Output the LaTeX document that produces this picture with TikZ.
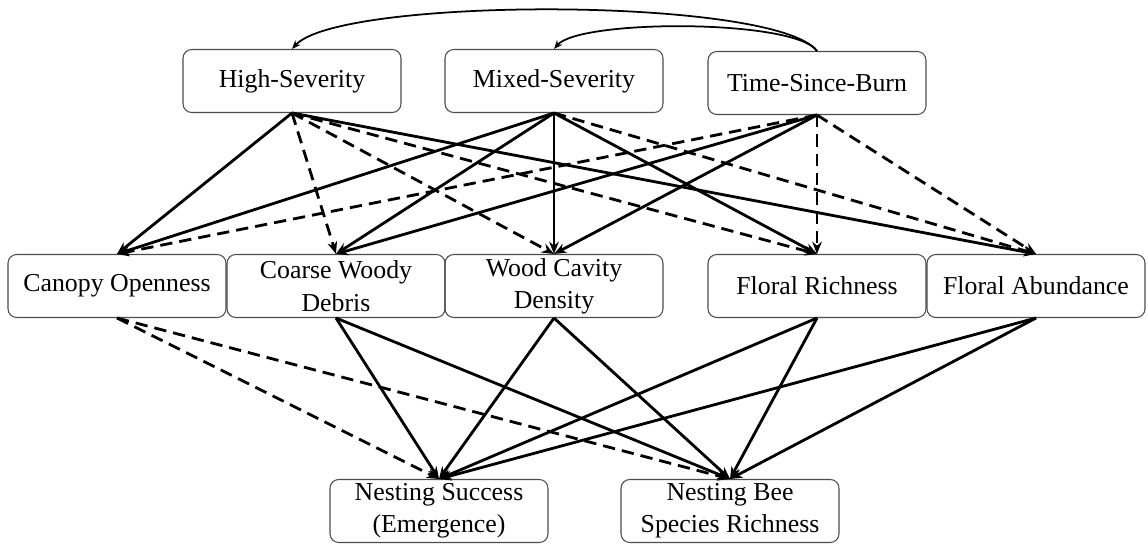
\documentclass[tikz,border=0pt]{standalone}
\usepackage{fontspec}
\setmainfont{Liberation Serif}
\usetikzlibrary{arrows.meta}

\begin{document}
\begin{tikzpicture}[
  box/.style={draw=black!70,line width=0.6pt,rounded corners=5pt,minimum width=4.36cm,minimum height=1.26cm,inner sep=2pt,align=center,font=\fontsize{14.7}{18.4}\selectfont},
  arr/.style={-{Stealth[length=7pt,width=5.5pt]},line width=1.6pt},
  darr/.style={arr,dash pattern=on 7pt off 4pt},
  back/.style={-{Stealth[length=5pt,width=4pt]},line width=1pt}]
  \useasboundingbox (0,0) rectangle (22.96,10.88);
  % fire variables
  \node[box] (hs) at (5.84,9.26) {High-Severity};
  \node[box] (ms) at (11.08,9.26) {Mixed-Severity};
  \node[box] (tsb) at (16.34,9.22) {Time-Since-Burn};
  % habitat variables
  \node[box] (co) at (2.34,5.16) {Canopy Openness};
  \node[box] (cwd) at (6.72,5.16) {Coarse Woody\\Debris};
  \node[box] (wcd) at (11.08,5.16) {Wood Cavity\\Density};
  \node[box] (fr) at (16.34,5.16) {Floral Richness};
  \node[box] (fa) at (20.72,5.16) {Floral Abundance};
  % responses
  \node[box] (ns) at (8.78,0.66) {Nesting Success\\(Emergence)};
  \node[box] (nb) at (14.6,0.66) {Nesting Bee\\Species Richness};
  % time since burn to severity
  \draw[back] (tsb.north) .. controls (15.5,10.95) and (6.8,10.95) .. (hs.north);
  \draw[back] (tsb.north) .. controls (15.9,10.5) and (11.6,10.5) .. (ms.north);
  % fire -> habitat
  \draw[arr] (hs.south) -- (co.north);
  \draw[darr] (hs.south) -- (cwd.north);
  \draw[darr] (hs.south) -- (wcd.north);
  \draw[darr] (hs.south) -- (fr.north);
  \draw[arr] (hs.south) -- (fa.north);
  \draw[arr] (ms.south) -- (co.north);
  \draw[arr] (ms.south) -- (cwd.north);
  \draw[arr] (ms.south) -- (wcd.north);
  \draw[arr] (ms.south) -- (fr.north);
  \draw[darr] (ms.south) -- (fa.north);
  \draw[darr] (tsb.south) -- (co.north);
  \draw[arr] (tsb.south) -- (cwd.north);
  \draw[arr] (tsb.south) -- (wcd.north);
  \draw[darr] (tsb.south) -- (fr.north);
  \draw[darr] (tsb.south) -- (fa.north);
  % habitat -> bees
  \draw[darr] (co.south) -- (ns.north);
  \draw[darr] (co.south) -- (nb.north);
  \draw[arr] (cwd.south) -- (ns.north);
  \draw[arr] (cwd.south) -- (nb.north);
  \draw[arr] (wcd.south) -- (ns.north);
  \draw[arr] (wcd.south) -- (nb.north);
  \draw[arr] (fr.south) -- (ns.north);
  \draw[arr] (fr.south) -- (nb.north);
  \draw[arr] (fa.south) -- (ns.north);
  \draw[arr] (fa.south) -- (nb.north);
\end{tikzpicture}
\end{document}
